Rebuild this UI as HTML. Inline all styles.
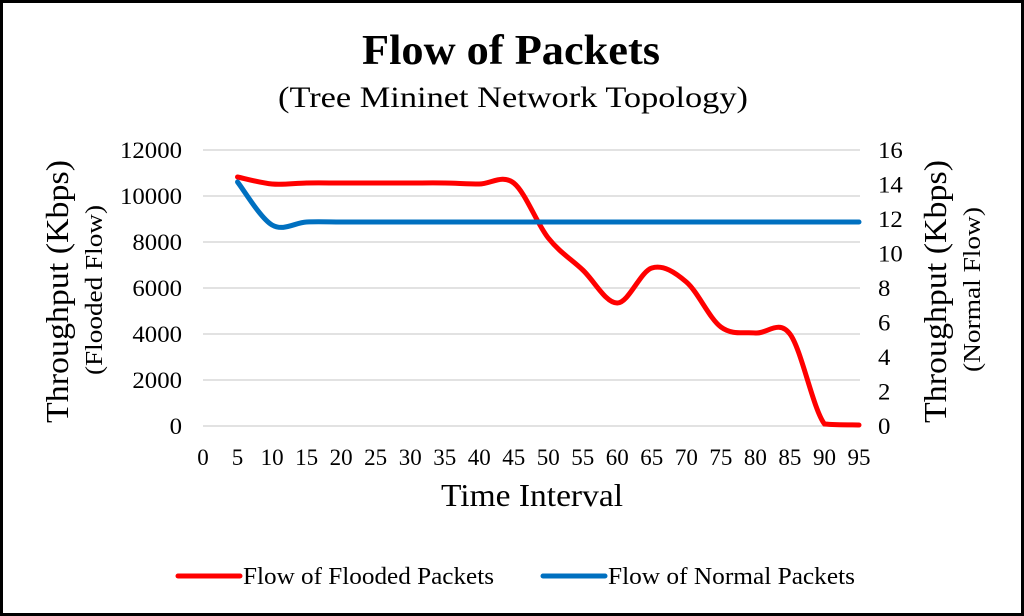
<!DOCTYPE html>
<html><head><style>
html,body{margin:0;padding:0;background:#fff;}
svg{display:block;font-family:"Liberation Serif",serif;}
</style></head><body>
<svg id="s" width="1024" height="616" viewBox="0 0 1024 616">
<rect x="1.5" y="1.5" width="1021" height="613" fill="#fff" stroke="#000" stroke-width="3"/>
<text x="362" y="64" font-size="42" font-weight="bold" textLength="298" lengthAdjust="spacingAndGlyphs">Flow of Packets</text>
<text x="278" y="107" font-size="30" textLength="470" lengthAdjust="spacingAndGlyphs">(Tree Mininet Network Topology)</text>
<g stroke="#d9d9d9" stroke-width="1.5">
<line x1="203" x2="860" y1="150" y2="150"/><line x1="203" x2="860" y1="196" y2="196"/>
<line x1="203" x2="860" y1="242" y2="242"/><line x1="203" x2="860" y1="288" y2="288"/>
<line x1="203" x2="860" y1="334" y2="334"/><line x1="203" x2="860" y1="380" y2="380"/>
<line x1="203" x2="860" y1="426" y2="426"/>
</g>
<g id="yl" font-size="23"></g>
<g id="xl" font-size="23" text-anchor="middle"></g>
<text x="441" y="506" font-size="32" textLength="182" lengthAdjust="spacingAndGlyphs">Time Interval</text>
<text transform="translate(68,423) rotate(-90)" font-size="32" textLength="263" lengthAdjust="spacingAndGlyphs">Throughput (Kbps)</text>
<text transform="translate(102,375) rotate(-90)" font-size="24" textLength="170" lengthAdjust="spacingAndGlyphs">(Flooded Flow)</text>
<text transform="translate(946,423) rotate(-90)" font-size="32" textLength="263" lengthAdjust="spacingAndGlyphs">Throughput (Kbps)</text>
<text transform="translate(980,372) rotate(-90)" font-size="24" textLength="165" lengthAdjust="spacingAndGlyphs">(Normal Flow)</text>
<path id="red" fill="none" stroke="#ff0000" stroke-width="5" stroke-linecap="round"/>
<path id="blue" fill="none" stroke="#0070c0" stroke-width="5" stroke-linecap="round"/>
<line x1="178" x2="240" y1="576" y2="576" stroke="#ff0000" stroke-width="5" stroke-linecap="round"/>
<text x="243" y="584" font-size="24" textLength="251" lengthAdjust="spacingAndGlyphs">Flow of Flooded Packets</text>
<line x1="543" x2="605" y1="576" y2="576" stroke="#0070c0" stroke-width="5" stroke-linecap="round"/>
<text x="608" y="584" font-size="24" textLength="247" lengthAdjust="spacingAndGlyphs">Flow of Normal Packets</text>
</svg>
<script>
var X=function(i){return 203+34.526*i;};
var xl=document.getElementById('xl'),h='';
for(var i=0;i<20;i++)h+='<text x="'+X(i).toFixed(1)+'" y="465">'+(i*5)+'</text>';
xl.innerHTML=h;
h='';
var L=['12000','10000','8000','6000','4000','2000','0'];
for(var i=0;i<7;i++){var w=L[i].length*12.4;h+='<text x="'+(182-w)+'" y="'+(158+46*i)+'" textLength="'+w+'" lengthAdjust="spacingAndGlyphs">'+L[i]+'</text>';}
for(var i=0;i<9;i++){var t=String(16-2*i),w=t.length*12.4;h+='<text x="878" y="'+(158+34.5*i)+'" textLength="'+w+'" lengthAdjust="spacingAndGlyphs">'+t+'</text>';}
document.getElementById('yl').innerHTML=h;
function path(ys){var p=ys.map(function(y,k){return [X(k+1),y];});
var cl=function(v){return Math.min(v,425);};
var d='M'+p[0][0]+','+p[0][1];
for(var k=0;k<p.length-1;k++){var a=p[k-1]||p[k],b=p[k],c=p[k+1],e=p[k+2]||c;
var c1=[b[0]+(c[0]-a[0])/6,cl(b[1]+(c[1]-a[1])/6)],c2=[c[0]-(e[0]-b[0])/6,cl(c[1]-(e[1]-b[1])/6)];
d+=' C'+c1+' '+c2+' '+c;}return d;}
document.getElementById('red').setAttribute('d',path([177,184,183,183,183,183,183,184,183,238,270,303,268,282,327,333,334,424,425]));
var b=[182,225];for(var i=0;i<17;i++)b.push(222);
document.getElementById('blue').setAttribute('d',path(b));
</script>
</body></html>
